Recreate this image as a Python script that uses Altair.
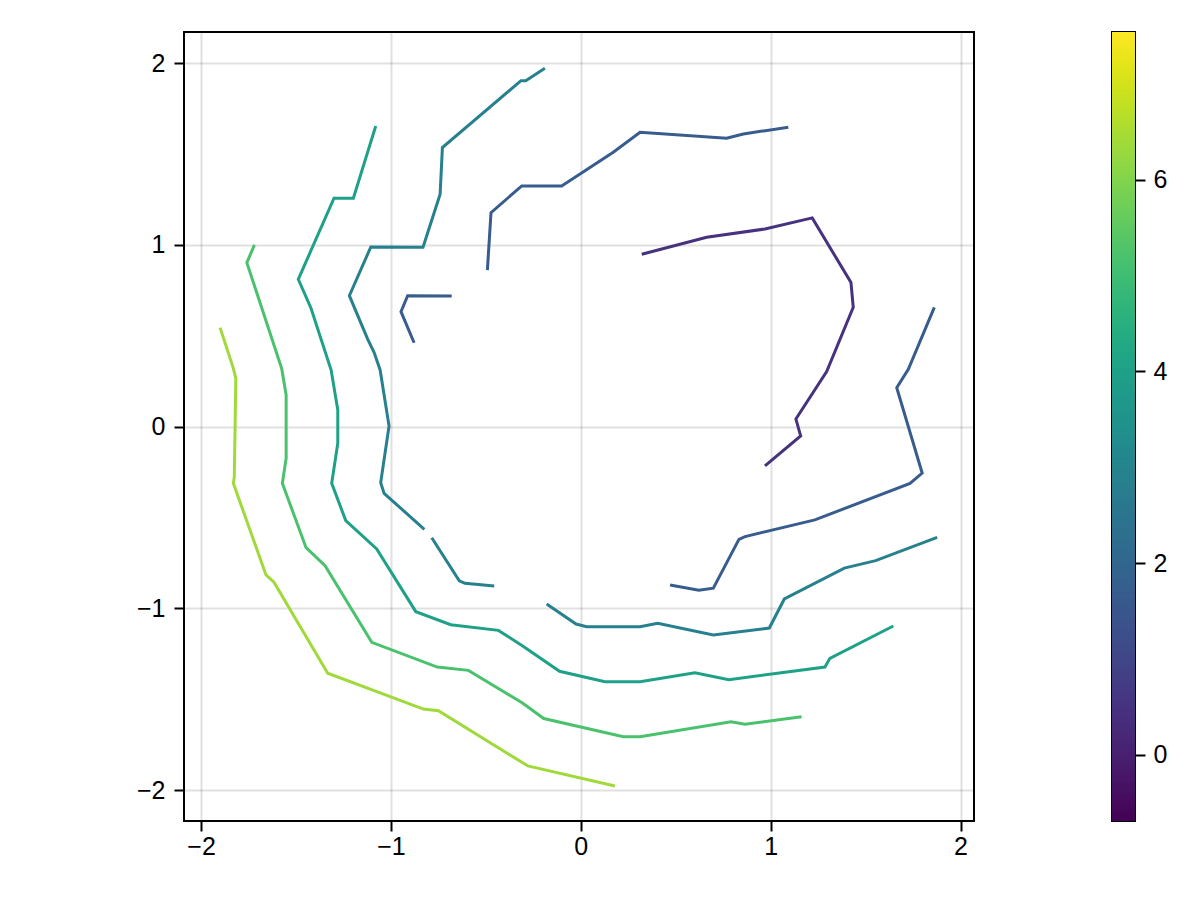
import altair as alt
import numpy as np
import pandas as pd

# contour levels (value of each line) and colour range of the colorbar
levels = [0.49, 1.66, 2.84, 4.01, 5.19, 6.37]
cmin, cmax = -0.69, 7.54

# level 0.49 (purple)
purple_x = [0.321, 0.663, 0.970, 1.219, 1.423, 1.435, 1.295, 1.133, 1.158, 0.970]
purple_y = [0.949, 1.042, 1.088, 1.149, 0.793, 0.657, 0.303, 0.042, -0.051, -0.216]

# level 1.66 (dark blue), three pieces
blue_top_x = [-0.492, -0.473, -0.311, -0.101, 0.171, 0.312, 0.768, 0.856, 1.093]
blue_top_y = [0.862, 1.178, 1.325, 1.325, 1.510, 1.620, 1.587, 1.611, 1.648]
blue_hook_x = [-0.878, -0.947, -0.912, -0.680]
blue_hook_y = [0.462, 0.633, 0.721, 0.719]
blue_right_x = [0.470, 0.622, 0.698, 0.833, 0.865, 1.233, 1.734, 1.798, 1.664, 1.725, 1.862]
blue_right_y = [-0.871, -0.900, -0.889, -0.620, -0.605, -0.513, -0.312, -0.255, 0.215, 0.316, 0.657]

# level 2.84 (teal), three pieces
teal_a_x = [-0.189, -0.290, -0.315, -0.729, -0.741, -0.831, -1.106, -1.219, -1.122, -1.089,
            -1.057, -1.010, -1.054, -1.036, -0.824]
teal_a_y = [1.972, 1.904, 1.904, 1.536, 1.279, 0.987, 0.989, 0.721, 0.481, 0.409,
            0.312, 0.004, -0.308, -0.367, -0.565]
teal_b_x = [-0.785, -0.640, -0.610, -0.456]
teal_b_y = [-0.611, -0.848, -0.862, -0.877]
teal_c_x = [-0.180, -0.025, 0.031, 0.312, 0.405, 0.698, 0.993, 1.072, 1.388, 1.553, 1.877]
teal_c_y = [-0.976, -1.086, -1.101, -1.101, -1.082, -1.146, -1.108, -0.948, -0.778, -0.737, -0.609]

# level 4.01 (sea green)
sea_x = [-1.080, -1.198, -1.300, -1.488, -1.421, -1.315, -1.280, -1.280, -1.312, -1.238,
         -1.075, -0.869, -0.685, -0.434, -0.310, -0.112, 0.127, 0.312, 0.601, 0.780,
         1.286, 1.312, 1.646]
sea_y = [1.655, 1.257, 1.257, 0.811, 0.652, 0.312, 0.092, -0.091, -0.312, -0.517,
         -0.673, -1.018, -1.090, -1.121, -1.204, -1.346, -1.403, -1.403, -1.354, -1.392,
         -1.323, -1.275, -1.097]

# level 5.19 (green)
green_x = [-1.719, -1.759, -1.575, -1.552, -1.552, -1.572, -1.447, -1.347, -1.101, -0.756,
           -0.592, -0.311, -0.195, 0.224, 0.312, 0.791, 0.865, 1.163]
green_y = [1.000, 0.903, 0.318, 0.174, -0.174, -0.312, -0.666, -0.765, -1.187, -1.323,
           -1.341, -1.518, -1.606, -1.706, -1.706, -1.624, -1.638, -1.596]

# level 6.37 (yellow green)
lime_x = [-1.900, -1.830, -1.817, -1.825, -1.830, -1.658, -1.616, -1.333, -0.829, -0.750,
          -0.279, 0.180]
lime_y = [0.545, 0.321, 0.266, -0.275, -0.312, -0.816, -0.856, -1.357, -1.554, -1.563,
          -1.867, -1.977]

segments = [
    (levels[0], purple_x, purple_y),
    (levels[1], blue_top_x, blue_top_y),
    (levels[1], blue_hook_x, blue_hook_y),
    (levels[1], blue_right_x, blue_right_y),
    (levels[2], teal_a_x, teal_a_y),
    (levels[2], teal_b_x, teal_b_y),
    (levels[2], teal_c_x, teal_c_y),
    (levels[3], sea_x, sea_y),
    (levels[4], green_x, green_y),
    (levels[5], lime_x, lime_y),
]

rows = []
for s, (lev, xs, ys) in enumerate(segments):
    for i, (x, y) in enumerate(zip(xs, ys)):
        rows.append({"seg": s, "i": i, "level": lev, "x": x, "y": y})
df = pd.DataFrame(rows)

# colorbar gradient
edges = np.linspace(cmin, cmax, 301)
step = edges[1] - edges[0]
cb = pd.DataFrame({"lo": edges[:-1], "hi": edges[:-1] + step * 1.6, "mid": edges[:-1] + step / 2})
cb["hi"] = cb["hi"].clip(upper=cmax)

color_scale = alt.Scale(scheme="viridis", domain=[cmin, cmax])
ticks = [-2, -1, 0, 1, 2]

axis_style = dict(
    domain=False,
    tickColor="black",
    tickWidth=2,
    tickSize=10,
    labelFont="Liberation Sans",
    labelFontSize=25,
    labelColor="black",
    title=None,
    format="d",
)

main = alt.Chart(df).mark_line(strokeWidth=3, strokeCap="butt").encode(
    x=alt.X("x:Q", scale=alt.Scale(domain=[-2.09, 2.071], nice=False, zero=False),
            axis=alt.Axis(values=ticks, labelPadding=3, gridColor="black",
                          gridOpacity=0.12, gridWidth=2, **axis_style)),
    y=alt.Y("y:Q", scale=alt.Scale(domain=[-2.17, 2.172], nice=False, zero=False),
            axis=alt.Axis(values=ticks, labelPadding=9, minExtent=52, maxExtent=52,
                          gridColor="black", gridOpacity=0.12, gridWidth=2, **axis_style)),
    color=alt.Color("level:Q", scale=color_scale, legend=None),
    detail="seg:N",
    order="i:Q",
).properties(width=790, height=789)

cbar = alt.Chart(cb).mark_rect().encode(
    y=alt.Y("lo:Q", scale=alt.Scale(domain=[cmin, cmax], nice=False, zero=False),
            axis=alt.Axis(orient="right", values=[0, 2, 4, 6], grid=False,
                          labelPadding=8, **axis_style)),
    y2="hi:Q",
    color=alt.Color("mid:Q", scale=color_scale, legend=None),
).properties(width=23, height=789)

chart = alt.hconcat(main, cbar, spacing=136).resolve_scale(
    x="independent", y="independent"
).properties(
    padding={"left": 123, "top": 23, "right": 10, "bottom": 10},
    background="white",
).configure_view(
    stroke="black", strokeWidth=2
)

chart.save("out.html", embed_options={"renderer": "svg", "actions": False})
